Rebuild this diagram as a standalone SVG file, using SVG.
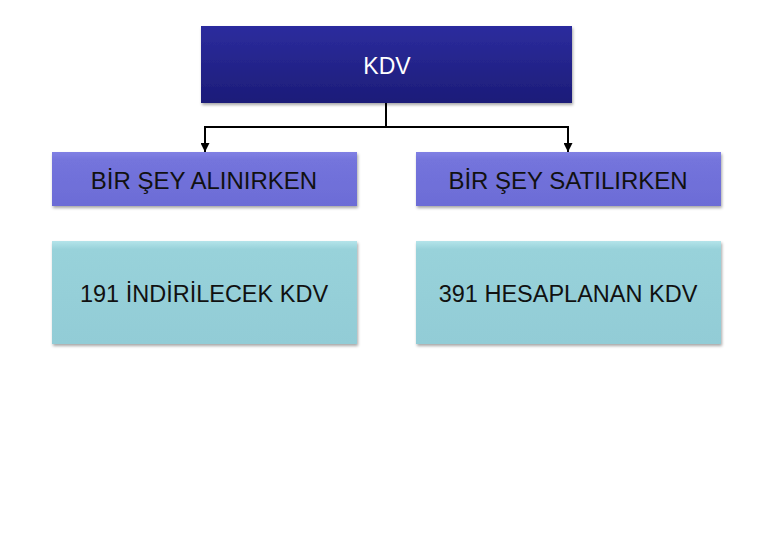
<svg xmlns="http://www.w3.org/2000/svg" width="780" height="540" viewBox="0 0 780 540">
<style>
.t{font-family:"Liberation Sans",Arial,sans-serif;text-anchor:middle;dominant-baseline:central}
.w{fill:#ffffff;font-size:23px}
.b{fill:#111111;font-size:24px}
.l{fill:#111111;font-size:23.5px}
.c{fill:none;stroke:#000;stroke-width:2}
</style>
<defs>
<linearGradient id="gTop" x1="0" y1="0" x2="0" y2="1">
<stop offset="0" stop-color="#2c2c9e"/><stop offset="1" stop-color="#1c1c78"/>
</linearGradient>
<linearGradient id="gMid" x1="0" y1="0" x2="0" y2="1">
<stop offset="0" stop-color="#8080e4"/><stop offset="0.15" stop-color="#7474dc"/><stop offset="1" stop-color="#6c6cd6"/>
</linearGradient>
<linearGradient id="gLow" x1="0" y1="0" x2="0" y2="1">
<stop offset="0" stop-color="#b4e4ea"/><stop offset="0.08" stop-color="#98d2da"/><stop offset="1" stop-color="#92ccd6"/>
</linearGradient>
<filter id="sh" x="-5%" y="-10%" width="110%" height="130%">
<feDropShadow dx="1" dy="2" stdDeviation="1.5" flood-color="#000" flood-opacity="0.35"/>
</filter>
<marker id="arr" viewBox="0 0 10 10" refX="10" refY="5" markerWidth="9" markerHeight="9" orient="auto" markerUnits="userSpaceOnUse">
<path d="M0,0 L10,5 L0,10 Z" fill="#000"/>
</marker>
</defs>
<g id="connectors">
<polyline class="c" points="386,103 386,127 205,127 205,152" marker-end="url(#arr)"/>
<polyline class="c" points="386,127 568,127 568,152" marker-end="url(#arr)"/>
</g>
<g id="kdv">
<rect x="201" y="26" width="371" height="77" fill="url(#gTop)" filter="url(#sh)"/>
<text class="t w" x="387" y="66">KDV</text>
</g>
<g id="alinirken">
<rect x="52" y="152" width="305" height="54" fill="url(#gMid)" filter="url(#sh)"/>
<text class="t b" x="204" y="180">BİR ŞEY ALINIRKEN</text>
</g>
<g id="satilirken">
<rect x="416" y="152" width="305" height="54" fill="url(#gMid)" filter="url(#sh)"/>
<text class="t b" x="568" y="180">BİR ŞEY SATILIRKEN</text>
</g>
<g id="indirilecek">
<rect x="52" y="241" width="305" height="103" fill="url(#gLow)" filter="url(#sh)"/>
<text class="t l" x="204" y="294">191 İNDİRİLECEK KDV</text>
</g>
<g id="hesaplanan">
<rect x="416" y="241" width="305" height="103" fill="url(#gLow)" filter="url(#sh)"/>
<text class="t l" x="568" y="294">391 HESAPLANAN KDV</text>
</g>
</svg>
